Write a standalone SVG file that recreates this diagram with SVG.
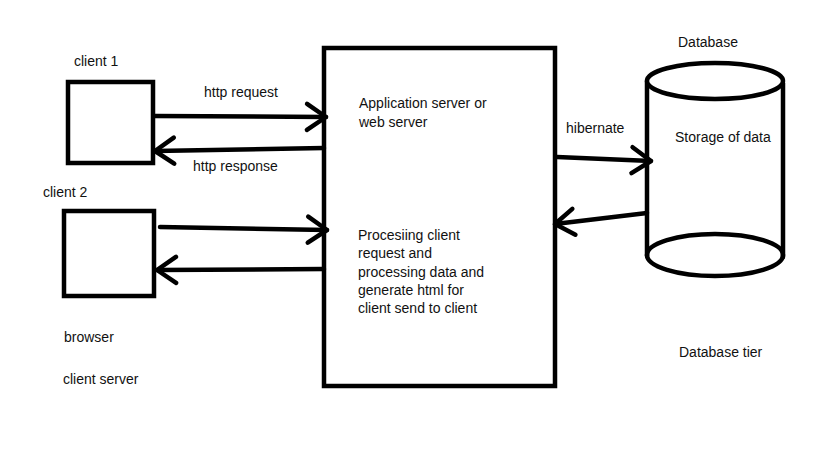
<svg xmlns="http://www.w3.org/2000/svg" width="819" height="460" viewBox="0 0 819 460">
<style>
.s{fill:none;stroke:#000;stroke-width:4.5;stroke-linecap:round;stroke-linejoin:round}
.b{fill:#fff;stroke:#000;stroke-width:4.5}
text{font-family:"Liberation Sans",Arial,sans-serif;font-size:14px;fill:#111}
</style>
<defs>
<marker id="ah" markerUnits="userSpaceOnUse" viewBox="-25 -18 30 36" refX="0" refY="0" markerWidth="30" markerHeight="36" orient="auto" overflow="visible">
<path d="M-19 -13 L0 0 L-19 13" fill="none" stroke="#000" stroke-width="4.5" stroke-linecap="round" stroke-linejoin="round"/>
</marker>
</defs>
<rect width="819" height="460" fill="#fff"/>
<g id="client1">
<rect class="b" x="68" y="82" width="85" height="81"/>
<text x="74" y="66">client 1</text>
</g>
<g id="client2">
<rect class="b" x="64" y="211" width="90" height="85"/>
<text x="43" y="197">client 2</text>
<text x="64" y="342">browser</text>
<text x="63" y="384">client server</text>
</g>
<g id="server">
<rect class="b" x="324" y="48" width="231" height="338"/>
<text x="359" y="108">Application server or</text>
<text x="359" y="127">web server</text>
<text x="358" y="240">Procesiing client</text>
<text x="358" y="258">request and</text>
<text x="358" y="277">processing data and</text>
<text x="358" y="295">generate html for</text>
<text x="358" y="313">client send to client</text>
</g>
<g id="database">
<path class="s" d="M647 81 L647 256 M783 83 L783 257"/>
<ellipse class="b" cx="715" cy="81" rx="68" ry="18"/>
<ellipse class="s" cx="715" cy="255" rx="68" ry="21"/>
<text x="678" y="47">Database</text>
<text x="675" y="142">Storage of data</text>
<text x="679" y="357">Database tier</text>
</g>
<g id="connectors">
<path class="s" d="M155 116 L326 117" marker-end="url(#ah)"/>
<path class="s" d="M324 148 L155 151" marker-end="url(#ah)"/>
<path class="s" d="M160 227 L327 230" marker-end="url(#ah)"/>
<path class="s" d="M324 269 L157 270" marker-end="url(#ah)"/>
<path class="s" d="M557 157 L651 161" marker-end="url(#ah)"/>
<path class="s" d="M647 213 L555 224" marker-end="url(#ah)"/>
<text x="204" y="97">http request</text>
<text x="193" y="171">http response</text>
<text x="566" y="133">hibernate</text>
</g>
</svg>
